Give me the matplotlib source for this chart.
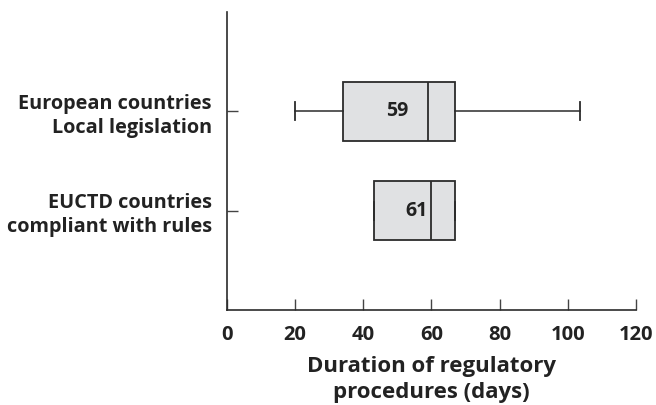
import matplotlib
matplotlib.use("Agg")
from matplotlib import pyplot as plt

plt.rcParams['font.family'] = ['Open Sans', 'DejaVu Sans']

# data (days)
groups = ["European countries\nLocal legislation", "EUCTD countries\ncompliant with rules"]
whisker_low = [20, 43]
q1 = [34, 43]
median = [59, 60]
q3 = [67, 67]
whisker_high = [103.5, 67]
median_labels = ["59", "61"]
xticks = [0, 20, 40, 60, 80, 100, 120]

stats = []
for i in range(len(groups)):
    stats.append(dict(whislo=whisker_low[i], q1=q1[i], med=median[i], q3=q3[i],
                      whishi=whisker_high[i], fliers=[], label=groups[i]))

fig = plt.figure(figsize=(6.56, 4.05), dpi=100)
ax = fig.add_axes([0.346, 0.2346, 0.6235, 0.7358])

edge = "#2b2b2b"
ax.bxp(stats, positions=[1, 2], widths=0.6, orientation="horizontal",
       patch_artist=True, showfliers=False, capwidths=0.18,
       boxprops=dict(facecolor="#e0e1e3", edgecolor=edge, linewidth=1.3),
       medianprops=dict(color=edge, linewidth=1.3),
       whiskerprops=dict(color=edge, linewidth=1.1),
       capprops=dict(color=edge, linewidth=1.3))

# median labels inside the boxes
label_x = [50, 55.5]
for i in range(len(groups)):
    ax.text(label_x[i], i + 1, median_labels[i], ha="center", va="center",
            fontsize=14, fontweight="bold", color="#222222")

ax.set_ylim(3, 0)
ax.set_xlim(0, 120)
ax.set_yticks([1, 2])
ax.set_yticklabels(groups, fontsize=14.3, fontweight="bold", ha="right",
                   multialignment="right", color="#222222", linespacing=1.25)
ax.set_xticks(xticks)
ax.set_xticklabels([str(t) for t in xticks], fontsize=14.5, fontweight="bold", color="#222222")
ax.tick_params(axis="both", direction="in", length=8, width=1, color="#444444")
ax.tick_params(axis="y", pad=11)
ax.tick_params(axis="x", pad=11)
ax.set_xlabel("Duration of regulatory\nprocedures (days)", fontsize=16,
              fontweight="bold", color="#222222", labelpad=8, linespacing=1.3)

for s in ["top", "right"]:
    ax.spines[s].set_visible(False)
for s in ["left", "bottom"]:
    ax.spines[s].set_color(edge)
    ax.spines[s].set_linewidth(1.2)

fig.savefig("out.png", dpi=100)
